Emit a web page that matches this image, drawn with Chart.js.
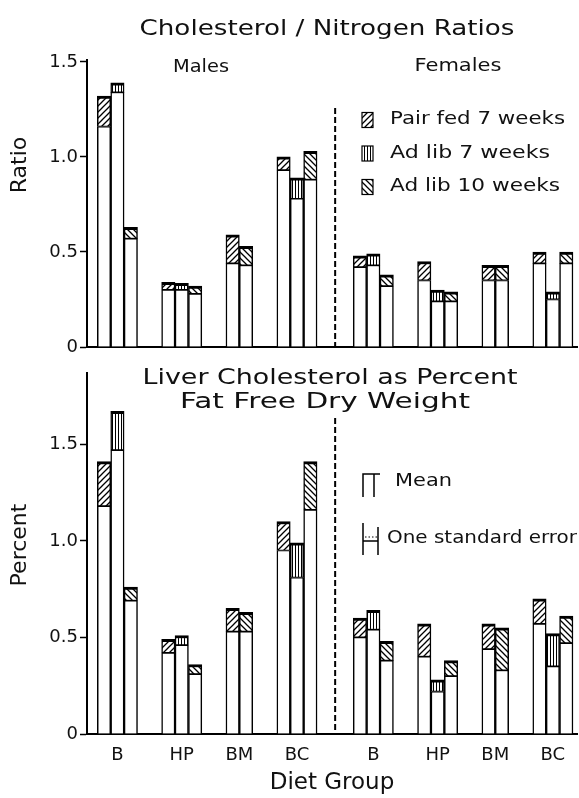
<!DOCTYPE html>
<html>
<head>
<meta charset="utf-8">
<script src="https://cdn.jsdelivr.net/npm/chart.js@4.4.1/dist/chart.umd.min.js"></script>
<style>
  body { margin: 0; background: #fff; }
  #wrap { position: relative; width: 579px; height: 798px; }
  #wrap canvas { position: absolute; left: 0; }
</style>
</head>
<body>
<div id="wrap">
  <canvas id="ratioChart" width="579" height="360" style="top:0"></canvas>
  <canvas id="percentChart" width="579" height="438" style="top:360px"></canvas>
</div>
<script>
const dietGroups = ['B', 'HP', 'BM', 'BC'];
const sexLabels = ['Males', 'Females'];
const treatments = ['Pair fed 7 weeks', 'Ad lib 7 weeks', 'Ad lib 10 weeks'];
const yTicks = [0, 0.5, 1.0, 1.5];

// one value per diet group: males B, HP, BM, BC, then females B, HP, BM, BC
const ratioPairMean    = [1.32, 0.34, 0.59, 1.00, 0.48, 0.45, 0.43, 0.50];
const ratioPairSE      = [0.16, 0.04, 0.15, 0.07, 0.06, 0.10, 0.08, 0.06];
const ratioAdlib7Mean  = [1.39, 0.335, null, 0.89, 0.49, 0.30, null, 0.29];
const ratioAdlib7SE    = [0.05, 0.035, null, 0.11, 0.06, 0.06, null, 0.04];
const ratioAdlib10Mean = [0.63, 0.32, 0.53, 1.03, 0.38, 0.29, 0.43, 0.50];
const ratioAdlib10SE   = [0.06, 0.04, 0.10, 0.15, 0.06, 0.05, 0.08, 0.06];

const percentPairMean    = [1.41, 0.49, 0.65, 1.10, 0.60, 0.57, 0.57, 0.70];
const percentPairSE      = [0.23, 0.07, 0.12, 0.15, 0.10, 0.17, 0.13, 0.13];
const percentAdlib7Mean  = [1.67, 0.51, null, 0.99, 0.64, 0.28, null, 0.52];
const percentAdlib7SE    = [0.20, 0.05, null, 0.18, 0.10, 0.06, null, 0.17];
const percentAdlib10Mean = [0.76, 0.36, 0.63, 1.41, 0.48, 0.38, 0.55, 0.61];
const percentAdlib10SE   = [0.07, 0.05, 0.10, 0.25, 0.10, 0.08, 0.22, 0.14];

const FONT = '"DejaVu Sans", sans-serif';
const INK = '#111';

// x positions in bar widths: bars of a group touch, groups are spaced apart
const FIRST_BAR = 0.77, GROUP_GAP = 1.8, SEX_GAP = 2.7, X_MAX = 36.57;

function layoutBars(means, ses) {
  const bars = [], centers = [];
  let pos = FIRST_BAR, malesEnd = 0;
  for (let g = 0; g < means[0].length; g++) {
    if (g === dietGroups.length) {
      malesEnd = pos - GROUP_GAP;
      pos += SEX_GAP - GROUP_GAP;
    }
    const start = pos;
    means.forEach((m, t) => {
      if (m[g] == null) return;
      bars.push({ t, x: pos + 0.5, mean: m[g], low: m[g] - ses[t][g] });
      pos += 1;
    });
    centers.push((start + pos) / 2);
    pos += GROUP_GAP;
  }
  const femalesStart = centers[dietGroups.length] - 1.5;
  return { bars, centers, divider: (malesEnd + femalesStart) / 2 };
}

function hatch(kind) {
  const c = document.createElement('canvas');
  const s = kind === 'vertical' ? 3 : 6;
  c.width = c.height = s;
  const g = c.getContext('2d');
  g.fillStyle = '#fff';
  g.fillRect(0, 0, s, s);
  g.strokeStyle = '#000';
  g.lineWidth = kind === 'vertical' ? 1 : 1.3;
  g.beginPath();
  if (kind === 'vertical') {
    g.moveTo(1.5, 0); g.lineTo(1.5, s);
  } else if (kind === 'forward') {
    g.moveTo(0, s); g.lineTo(s, 0);
    g.moveTo(-1, 1); g.lineTo(1, -1);
    g.moveTo(s - 1, s + 1); g.lineTo(s + 1, s - 1);
  } else {
    g.moveTo(0, 0); g.lineTo(s, s);
    g.moveTo(-1, s - 1); g.lineTo(1, s + 1);
    g.moveTo(s - 1, -1); g.lineTo(s + 1, 1);
  }
  g.stroke();
  return g.createPattern(c, 'repeat');
}
const patterns = [hatch('forward'), hatch('vertical'), hatch('back')];

function makeDatasets(bars) {
  const sets = [{
    data: bars.map(b => ({ x: b.x, y: [0, b.low] })),
    backgroundColor: '#fff',
    borderColor: '#000',
    borderWidth: { left: 1.5, right: 1.5, top: 1.2, bottom: 0 },
    borderSkipped: false
  }];
  treatments.forEach((name, t) => sets.push({
    label: name,
    data: bars.filter(b => b.t === t).map(b => ({ x: b.x, y: [b.low, b.mean] })),
    backgroundColor: patterns[t],
    borderColor: '#000',
    borderWidth: { left: 1.5, right: 1.5, top: 3, bottom: 1.2 },
    borderSkipped: false
  }));
  return sets;
}

function drawText(ctx, text, x, y, size, width, angle = 0, align = 'center') {
  ctx.save();
  ctx.translate(x, y);
  ctx.rotate(angle);
  ctx.font = size + 'px ' + FONT;
  ctx.textBaseline = 'middle';
  ctx.textAlign = align;
  ctx.fillStyle = INK;
  if (width) ctx.scale(width / ctx.measureText(text).width, 1);
  ctx.fillText(text, 0, 0);
  ctx.restore();
}

function drawDivider(ctx, x, top, bottom) {
  ctx.save();
  ctx.strokeStyle = '#000';
  ctx.lineWidth = 2;
  ctx.setLineDash([6, 3]);
  ctx.beginPath();
  ctx.moveTo(x, top);
  ctx.lineTo(x, bottom);
  ctx.stroke();
  ctx.restore();
}

function scaleOptions(yMax, xHeight, showLabels, layout) {
  return {
    x: {
      type: 'linear', min: 0, max: X_MAX, offset: false,
      grid: { display: false },
      border: { display: true, color: '#000', width: 2 },
      afterBuildTicks: s => { s.ticks = layout.centers.map(v => ({ value: v })); },
      afterFit: s => { s.height = xHeight; },
      ticks: {
        display: showLabels, autoSkip: false, maxRotation: 0, padding: 3,
        color: INK, font: { family: FONT, size: 18 },
        callback: (v, i) => dietGroups[i % dietGroups.length]
      },
      title: {
        display: showLabels, text: 'Diet Group', color: INK,
        font: { family: FONT, size: 23 }, padding: { top: 0, bottom: 1 }
      }
    },
    y: {
      min: 0, max: yMax,
      afterBuildTicks: s => { s.ticks = yTicks.map(v => ({ value: v })); },
      afterFit: s => { s.width = 87; },
      grid: { drawOnChartArea: false, tickLength: 7, tickColor: '#000', tickWidth: 1.5 },
      border: { display: true, color: '#000', width: 2 },
      ticks: {
        padding: 2, color: INK, font: { family: FONT, size: 18 },
        callback: v => v === 0 ? '0' : v.toFixed(1)
      }
    }
  };
}

function baseOptions(scales, topPad) {
  return {
    responsive: false,
    animation: false,
    layout: { padding: { top: topPad, right: 2, left: 0, bottom: 0 } },
    datasets: { bar: { grouped: false, categoryPercentage: 1, barPercentage: 1 } },
    plugins: { legend: { display: false }, tooltip: { enabled: false } },
    scales
  };
}

const ratioLayout = layoutBars(
  [ratioPairMean, ratioAdlib7Mean, ratioAdlib10Mean],
  [ratioPairSE, ratioAdlib7SE, ratioAdlib10SE]
);
const percentLayout = layoutBars(
  [percentPairMean, percentAdlib7Mean, percentAdlib10Mean],
  [percentPairSE, percentAdlib7SE, percentAdlib10SE]
);

new Chart(document.getElementById('ratioChart'), {
  type: 'bar',
  data: { datasets: makeDatasets(ratioLayout.bars) },
  options: baseOptions(scaleOptions(1.51, 13, false, ratioLayout), 60),
  plugins: [{
    id: 'ratioDecor',
    afterDraw(chart) {
      const { ctx, scales: { x, y } } = chart;
      drawText(ctx, 'Cholesterol / Nitrogen Ratios', 327, 29, 22, 375);
      drawText(ctx, sexLabels[0], 201, 68, 17, 56);
      drawText(ctx, sexLabels[1], 458, 67, 17, 87);
      drawText(ctx, 'Ratio', 20, 165, 22, null, -Math.PI / 2);
      drawDivider(ctx, x.getPixelForValue(ratioLayout.divider), 108, y.getPixelForValue(0));
      const widths = [175, 160, 170];
      treatments.forEach((name, t) => {
        const cy = 120 + t * 33.5;
        ctx.save();
        ctx.fillStyle = patterns[t];
        ctx.fillRect(362, cy - 7.5, 11, 15);
        ctx.strokeStyle = '#000';
        ctx.lineWidth = 1.2;
        ctx.strokeRect(362, cy - 7.5, 11, 15);
        ctx.restore();
        drawText(ctx, name, 390, cy, 17, widths[t], 0, 'left');
      });
    }
  }]
});

new Chart(document.getElementById('percentChart'), {
  type: 'bar',
  data: { datasets: makeDatasets(percentLayout.bars) },
  options: baseOptions(scaleOptions(1.87, 64, true, percentLayout), 10),
  plugins: [{
    id: 'percentDecor',
    afterDraw(chart) {
      const { ctx, scales: { x, y } } = chart;
      drawText(ctx, 'Liver Cholesterol as Percent', 330, 18, 22, 375);
      drawText(ctx, 'Fat Free Dry Weight', 325, 42, 22, 290);
      drawText(ctx, 'Percent', 20, 185, 22, null, -Math.PI / 2);
      drawDivider(ctx, x.getPixelForValue(percentLayout.divider), 58, y.getPixelForValue(0));

      // key: bar top marks the mean, the ruled band one standard error
      ctx.save();
      ctx.strokeStyle = '#000';
      ctx.lineWidth = 1.5;
      ctx.beginPath();
      ctx.moveTo(363, 137); ctx.lineTo(363, 114); ctx.lineTo(380, 114);
      ctx.moveTo(374, 114); ctx.lineTo(374, 137);
      ctx.stroke();
      ctx.beginPath();
      ctx.moveTo(363, 163); ctx.lineTo(363, 195);
      ctx.moveTo(378, 167); ctx.lineTo(378, 195);
      ctx.moveTo(363, 181); ctx.lineTo(378, 181);
      ctx.stroke();
      ctx.setLineDash([1.5, 2]);
      ctx.lineWidth = 1;
      ctx.beginPath();
      ctx.moveTo(365, 177); ctx.lineTo(377, 177);
      ctx.stroke();
      ctx.restore();
      drawText(ctx, 'Mean', 395, 121, 18, 57, 0, 'left');
      drawText(ctx, 'One standard error', 387, 178, 18, 190, 0, 'left');
    }
  }]
});
</script>
</body>
</html>
